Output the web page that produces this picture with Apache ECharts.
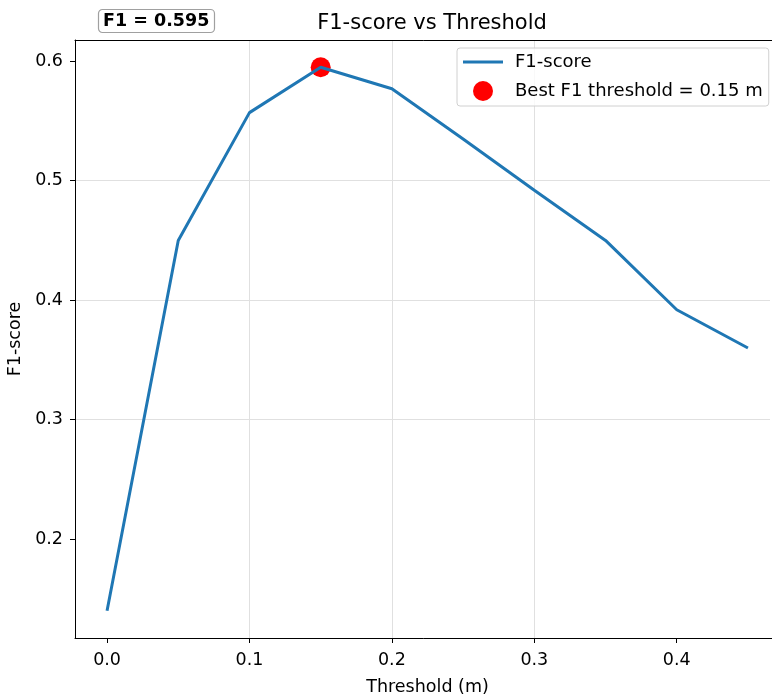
<!DOCTYPE html>
<html>
<head>
<meta charset="utf-8">
<script src="https://cdn.jsdelivr.net/npm/echarts@6/dist/echarts.min.js"></script>
<style>
html, body { margin: 0; padding: 0; background: #fff; overflow: hidden; }
#chart { width: 772px; height: 696px; }
</style>
</head>
<body>
<div id="chart"></div>
<script>
// data
var thresholds = [0.0, 0.05, 0.1, 0.15, 0.2, 0.25, 0.3, 0.35, 0.4, 0.45];
var f1Scores = [0.140, 0.450, 0.557, 0.595, 0.577, 0.535, 0.492, 0.450, 0.392, 0.360];
var bestThreshold = 0.15;
var bestF1 = 0.595;
var xTicks = [0.0, 0.1, 0.2, 0.3, 0.4];
var yTicks = [0.2, 0.3, 0.4, 0.5, 0.6];

var font = 'DejaVu Sans';
var fs = 17.5;
var lineData = thresholds.map(function (t, i) { return [t, f1Scores[i]]; });
var bestName = 'Best F1 threshold = ' + bestThreshold + ' m';
var xMin = -0.0225, xMax = 0.4725;

var chart = echarts.init(document.getElementById('chart'));
chart.setOption({
	animation: false,
	textStyle: { fontFamily: font },
	title: [{
		text: 'F1-score vs Threshold',
		left: 427, textAlign: 'center', top: 8,
		textStyle: { fontFamily: font, fontSize: 21, fontWeight: 'normal', color: '#000' }
	}, {
		text: 'F1 = ' + bestF1.toFixed(3),
		left: 98, top: 9,
		padding: [3, 5, 3, 5],
		borderColor: '#a0a0a0', borderWidth: 1.2, borderRadius: 4,
		backgroundColor: '#fff',
		textStyle: { fontFamily: font, fontSize: fs, fontWeight: 'bold', color: '#000' }
	}],
	// axes box runs past the right edge of the picture, as in the reference
	grid: { left: 75, width: 705, top: 40, height: 598, containLabel: false,
		outerBoundsMode: 'none' },
	// the reference has no right spine inside the picture
	graphic: [{
		type: 'rect', left: 770, top: 41, z: 100, silent: true,
		shape: { width: 4, height: 596 },
		style: { fill: '#fff' }
	}],
	legend: {
		orient: 'vertical',
		left: 457, top: 48,
		padding: [5, 6, 5, 6],
		itemGap: 10,
		itemWidth: 40, itemHeight: 20,
		borderColor: '#d0d0d0', borderWidth: 1, borderRadius: 3,
		backgroundColor: 'rgba(255,255,255,0.8)',
		data: [
			{ name: 'F1-score', icon: 'path://M0,0L40,0L40,3L0,3Z' },
			{ name: bestName, icon: 'circle' }
		],
		textStyle: { fontFamily: font, fontSize: 18, color: '#000', padding: [0, 0, 0, 7] }
	},
	xAxis: [{
		type: 'value',
		min: xMin, max: xMax,
		name: 'Threshold (m)', nameLocation: 'middle', nameGap: 40,
		nameTextStyle: { fontFamily: font, fontSize: fs, color: '#000' },
		axisLine: { onZero: false, lineStyle: { color: '#000', width: 1 } },
		axisTick: { show: true, length: 5, customValues: xTicks, lineStyle: { color: '#000' } },
		axisLabel: { customValues: xTicks, fontSize: fs, color: '#000', margin: 13, formatter: function (v) { return v.toFixed(1); } },
		splitLine: { show: true, showMinLine: false, showMaxLine: false, lineStyle: { color: '#e0e0e0', width: 1 } }
	}, {
		// top spine only
		type: 'value', position: 'top',
		min: xMin, max: xMax,
		axisLine: { show: true, onZero: false, lineStyle: { color: '#000', width: 1 } },
		axisTick: { show: false }, axisLabel: { show: false }, splitLine: { show: false }
	}],
	yAxis: {
		type: 'value',
		min: 0.1172, max: 0.6178,
		name: 'F1-score', nameLocation: 'middle', nameGap: 43, nameRotate: 90,
		nameTextStyle: { fontFamily: font, fontSize: fs, color: '#000' },
		axisLine: { show: true, onZero: false, lineStyle: { color: '#000', width: 1 } },
		axisTick: { show: true, length: 5, customValues: yTicks, lineStyle: { color: '#000' } },
		axisLabel: { customValues: yTicks, fontSize: fs, color: '#000', margin: 12, formatter: function (v) { return v.toFixed(1); } },
		splitLine: { show: true, showMinLine: false, showMaxLine: false, lineStyle: { color: '#e0e0e0', width: 1 } }
	},
	series: [{
		name: bestName,
		type: 'scatter',
		symbol: 'circle',
		symbolSize: 20,
		itemStyle: { color: '#ff0000', opacity: 1 },
		data: [[bestThreshold, bestF1]],
		z: 2
	}, {
		name: 'F1-score',
		type: 'line',
		symbol: 'none',
		lineStyle: { color: '#1f77b4', width: 3 },
		itemStyle: { color: '#1f77b4' },
		data: lineData,
		z: 3
	}]
});
</script>
</body>
</html>
